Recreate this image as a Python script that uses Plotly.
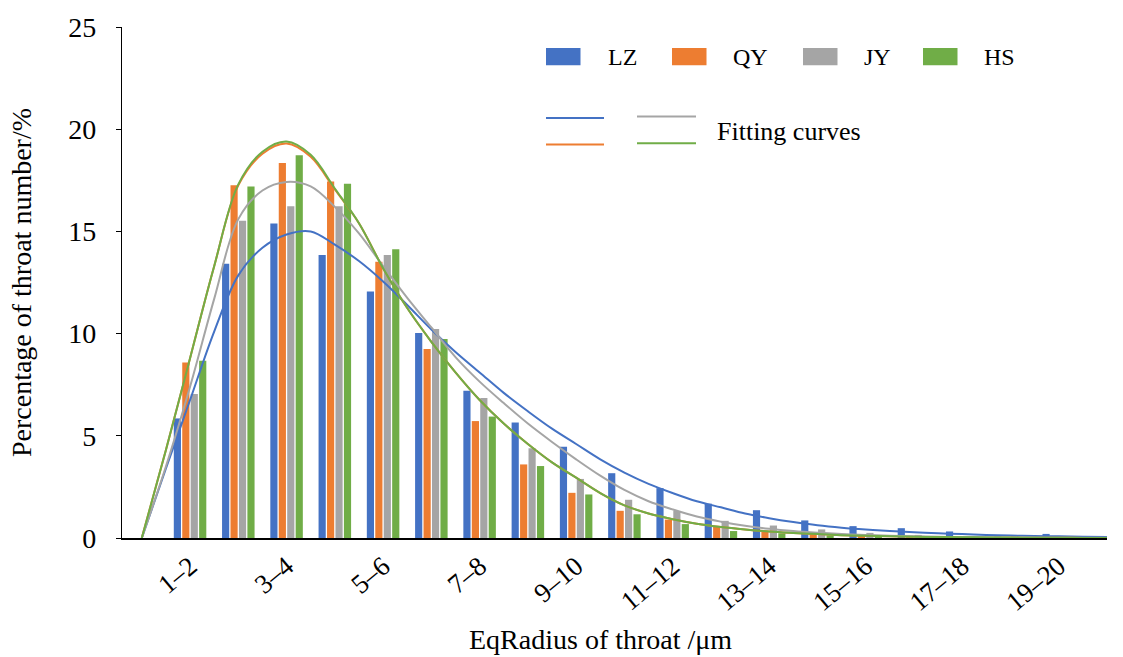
import plotly.graph_objects as go

# ---------------- data ----------------
bar_x = list(range(1, 20))
lz = [5.85, 13.42, 15.39, 13.84, 12.06, 10.03, 7.2, 5.65, 4.47, 3.17, 2.44, 1.68, 1.36, 0.86, 0.58, 0.48, 0.32, 0.05, 0.2]
qy = [8.59, 17.26, 18.35, 17.44, 13.52, 9.25, 5.72, 3.6, 2.21, 1.33, 0.9, 0.55, 0.35, 0.24, 0.15, 0.1, 0.05, 0.03, 0.02]
jy = [7.04, 15.52, 16.23, 16.23, 13.84, 10.22, 6.85, 4.39, 2.89, 1.87, 1.32, 0.84, 0.61, 0.42, 0.25, 0.15, 0.1, 0.05, 0.03]
hs = [8.67, 17.2, 18.72, 17.33, 14.13, 9.74, 5.94, 3.52, 2.13, 1.16, 0.68, 0.34, 0.23, 0.13, 0.1, 0.05, 0.03, 0.02, 0.01]

fit_x = [0, 0.5, 1, 1.5, 2, 2.5, 3, 3.5, 4, 4.5, 5, 5.5, 6, 6.5, 7, 7.5, 8, 8.5, 9, 9.5,
         10, 10.5, 11, 11.5, 12, 12.5, 13, 13.5, 14, 14.5, 15, 15.5, 16, 16.5, 17, 17.5,
         18, 18.5, 19, 19.5, 20]
fit_lz = [0, 3.4, 6.75, 10.1, 12.85, 14.2, 14.85, 15.0, 14.35, 13.55, 12.55, 11.4, 10.2, 9.1, 8.1, 7.1,
          6.2, 5.35, 4.6, 3.85, 3.2, 2.65, 2.2, 1.8, 1.5, 1.2, 0.97, 0.78, 0.62, 0.5, 0.41, 0.34,
          0.28, 0.23, 0.19, 0.15, 0.12, 0.1, 0.08, 0.06, 0.05]
fit_qy = [0, 4.3, 8.8, 13.3, 17.25, 18.8, 19.3, 18.65, 17.05, 15.4, 13.2, 11.25, 9.6, 8.1, 6.75, 5.6,
          4.6, 3.7, 2.95, 2.2, 1.6, 1.2, 0.92, 0.7, 0.54, 0.42, 0.32, 0.25, 0.19, 0.14, 0.11, 0.08,
          0.06, 0.05, 0.04, 0.03, 0.02, 0.015, 0.01, 0.005, 0.0]
fit_jy = [0, 3.5, 7.4, 11.7, 15.6, 17.0, 17.42, 17.2, 16.2, 14.9, 13.3, 11.75, 10.3, 8.85, 7.65, 6.6,
          5.6, 4.7, 3.85, 3.05, 2.35, 1.8, 1.4, 1.05, 0.8, 0.6, 0.45, 0.34, 0.26, 0.2, 0.15, 0.11,
          0.08, 0.06, 0.05, 0.04, 0.03, 0.02, 0.015, 0.01, 0.01]
fit_hs = [0, 4.3, 8.8, 13.3, 17.3, 18.9, 19.4, 18.75, 17.1, 15.4, 13.2, 11.25, 9.6, 8.1, 6.75, 5.6,
          4.6, 3.7, 2.95, 2.2, 1.6, 1.2, 0.92, 0.7, 0.54, 0.42, 0.32, 0.25, 0.19, 0.14, 0.11, 0.08,
          0.06, 0.05, 0.04, 0.03, 0.02, 0.015, 0.01, 0.005, 0.0]

tick_vals = [1, 3, 5, 7, 9, 11, 13, 15, 17, 19]
tick_text = ["1–2", "3–4", "5–6", "7–8", "9–10", "11–12", "13–14", "15–16", "17–18", "19–20"]

names = ["LZ", "QY", "JY", "HS"]
colors = ["#4472C4", "#ED7D31", "#A5A5A5", "#70AD47"]

FONT = "Liberation Serif, Times New Roman, serif"

# ---------------- figure ----------------
W, H = 1123, 657
ML, MR, MT, MB = 122, 16, 22, 119
PW, PH = W - ML - MR, H - MT - MB

fig = go.Figure()
for nm, vals, c in zip(names, [lz, qy, jy, hs], colors):
    fig.add_trace(go.Bar(x=bar_x, y=vals, name=nm, marker=dict(color=c, line=dict(width=0)),
                         showlegend=False))
for nm, vals, c in zip(names, [fit_lz, fit_qy, fit_jy, fit_hs], colors):
    fig.add_trace(go.Scatter(x=fit_x, y=vals, mode="lines", name=nm + " fit",
                             line=dict(color=c, width=2, shape="spline", smoothing=1.0),
                             showlegend=False))

fig.update_layout(
    width=W, height=H,
    margin=dict(l=ML, r=MR, t=MT, b=MB),
    paper_bgcolor="white", plot_bgcolor="white",
    barmode="group", bargap=0.30, bargroupgap=0.15,
    font=dict(family=FONT, size=26, color="black"),
    xaxis=dict(range=[-0.41, 20], tickmode="array", tickvals=tick_vals, ticktext=tick_text,
               tickangle=-40, showgrid=False, zeroline=False, showline=True,
               linecolor="black", linewidth=1.5, ticks="",
               tickfont=dict(family=FONT, size=27)),
    yaxis=dict(range=[0, 25], tickvals=[0, 5, 10, 15, 20, 25], showgrid=False, zeroline=False,
               showline=True, linecolor="black", linewidth=1.2, ticks="outside", ticklen=5,
               tickcolor="black", ticklabelstandoff=14,
               tickfont=dict(family=FONT, size=28),
               title=dict(text="Percentage of throat number/%", font=dict(family=FONT, size=28), standoff=28)),
)

# ---------------- custom legend & titles ----------------
def px2paper(px, py):
    return (px - ML) / PW, (H - MB - py) / PH

tx, ty = px2paper(600, 640)
fig.add_annotation(xref="paper", yref="paper", x=tx, y=ty, text="EqRadius of throat /μm",
                   showarrow=False, xanchor="center", yanchor="middle",
                   font=dict(family=FONT, size=28))

sq_left = [546, 672, 803, 923]
txt_left = [606, 731, 862, 982]
for i in range(4):
    x0, y0 = px2paper(sq_left[i], 60.7)
    x1, y1 = px2paper(sq_left[i] + 34.5, 43.3)
    fig.add_shape(type="rect", xref="paper", yref="paper", x0=x0, y0=y0, x1=x1, y1=y1,
                  fillcolor=colors[i], line=dict(width=0))
    tx, ty = px2paper(txt_left[i], 52)
    fig.add_annotation(xref="paper", yref="paper", x=tx, y=ty, text=names[i], showarrow=False,
                       xanchor="left", yanchor="middle", font=dict(family=FONT, size=24))

line_specs = [(546, 604, 114, colors[0]), (546, 604, 140.7, colors[1]),
              (637, 696, 112.3, colors[2]), (637, 696, 139.3, colors[3])]
for xa, xb, yy, c in line_specs:
    x0, y0 = px2paper(xa, yy)
    x1, _ = px2paper(xb, yy)
    fig.add_shape(type="line", xref="paper", yref="paper", x0=x0, y0=y0, x1=x1, y1=y0,
                  line=dict(color=c, width=2))
tx, ty = px2paper(715, 128)
fig.add_annotation(xref="paper", yref="paper", x=tx, y=ty, text="Fitting curves", showarrow=False,
                   xanchor="left", yanchor="middle", font=dict(family=FONT, size=26))

fig.write_html("out.html")
